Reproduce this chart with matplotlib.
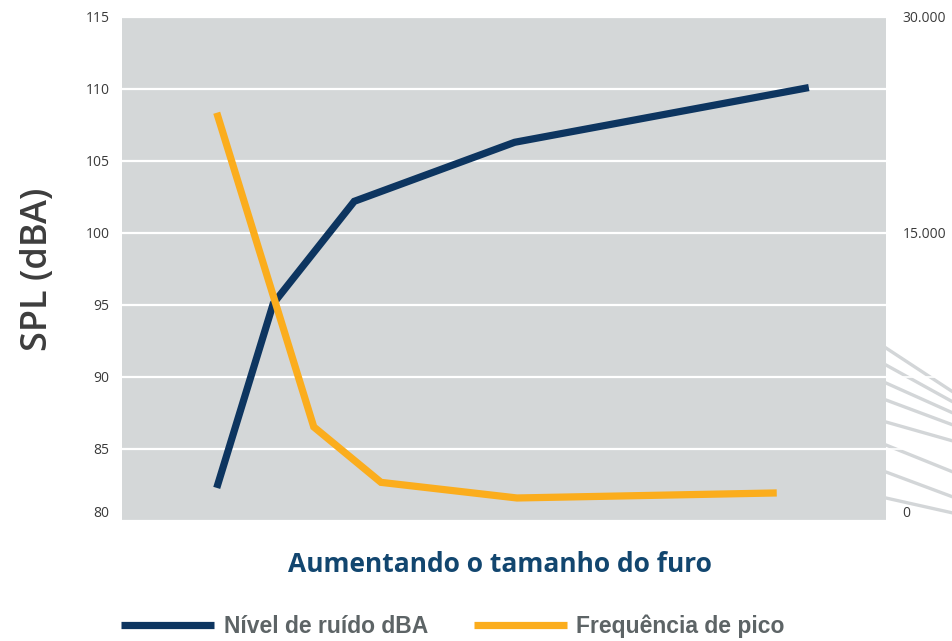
import matplotlib
matplotlib.use("Agg")
import matplotlib.pyplot as plt
from matplotlib.lines import Line2D
import numpy as np

# ---- data ----
tamanho_ruido = [12.4, 19.8, 30.4, 51.4, 89.9]
nivel_ruido = [82.3, 95.1, 102.2, 106.3, 110.1]
tamanho_freq = [12.4, 25.1, 33.9, 51.7, 85.7]
freq_pico = [24300, 5600, 2300, 1370, 1670]

left_ticks = [80, 85, 90, 95, 100, 105, 110, 115]
right_tick_labels = ["0", "15.000", "30.000"]

NAVY = "#0d3560"
ORANGE = "#fbad1d"
BG = "#d4d7d8"
TICK_C = "#3a3a3a"

W, H = 953, 641
fig = plt.figure(figsize=(W / 100, H / 100), dpi=100)
fig.patch.set_facecolor("white")

L, R, T, B = 122, 886, 17, 521
ax = fig.add_axes([L / W, (H - B) / H, (R - L) / W, (B - T) / H])
ax.set_facecolor(BG)
ax.set_xlim(0, 100)
ax.set_ylim(80, 115)
ax.set_yticks(left_ticks)
ax.set_yticklabels([str(v) for v in left_ticks], family="Open Sans",
                   fontsize=10, color=TICK_C)
ax.tick_params(axis="y", length=0, pad=9)
ax.get_yticklabels()[0].set_va("bottom")
ax.set_xticks([])
for s in ax.spines.values():
    s.set_visible(False)
ax.grid(axis="y", color="white", linewidth=1.6)
ax.set_axisbelow(True)

ax2 = ax.twinx()
ax2.set_ylim(0, 30000)
# right labels placed where they appear in the reference (0, level of 100 dBA, top)
right_pos = [0, 30000 * (100 - 80) / 35, 30000]
ax2.set_yticks(right_pos)
ax2.set_yticklabels(right_tick_labels, family="Open Sans", fontsize=10, color=TICK_C)
ax2.tick_params(axis="y", length=0, pad=12)
ax2.get_yticklabels()[0].set_va("bottom")
for s in ax2.spines.values():
    s.set_visible(False)

ax.plot(tamanho_ruido, nivel_ruido, color=NAVY, linewidth=5.2,
        solid_capstyle="butt", solid_joinstyle="miter", zorder=3)
ax2.plot(tamanho_freq, freq_pico, color=ORANGE, linewidth=5.2,
         solid_capstyle="butt", solid_joinstyle="miter", zorder=3)

ax.set_ylabel("SPL (dBA)", family="Open Sans", fontsize=26, fontweight="semibold",
              color="#3d3d3d", labelpad=21)
fig.text(500 / W, (H - 564) / H, "Aumentando o tamanho do furo", family="Open Sans",
         fontsize=19, fontweight="bold", color="#12466f", ha="center", va="center")

# decorative background strokes at lower right
deco = [(348, 392), (365, 402), (383, 413), (400, 425), (422, 441),
        (445, 472), (472, 497), (498, 513)]
for y0, y1 in deco:
    fig.add_artist(Line2D([R / W, 1.0], [(H - y0) / H, (H - y1) / H],
                          transform=fig.transFigure, color="#d3d6d8",
                          linewidth=2.4, zorder=0))
for gy in [90, 85]:
    yy = (H - (B - (gy - 80) / 35 * (B - T))) / H
    fig.add_artist(Line2D([R / W, 1.0], [yy, yy], transform=fig.transFigure,
                          color="white", linewidth=1.2, zorder=0.5))

handles = [Line2D([], [], color=NAVY, linewidth=5.2, solid_capstyle="butt"),
           Line2D([], [], color=ORANGE, linewidth=5.2, solid_capstyle="butt")]
leg = fig.legend(handles, ["Nível de ruído dBA", "Frequência de pico"],
                 loc="center", bbox_to_anchor=(453 / W, (H - 626) / H), ncol=2,
                 frameon=False, handlelength=4.05, handletextpad=0.42,
                 columnspacing=2.0, borderpad=0, borderaxespad=0,
                 prop={"family": "Liberation Sans", "weight": "bold", "size": 16.5})
for t in leg.get_texts():
    t.set_color("#5d6466")

fig.savefig("out.png", dpi=100, facecolor="white")
